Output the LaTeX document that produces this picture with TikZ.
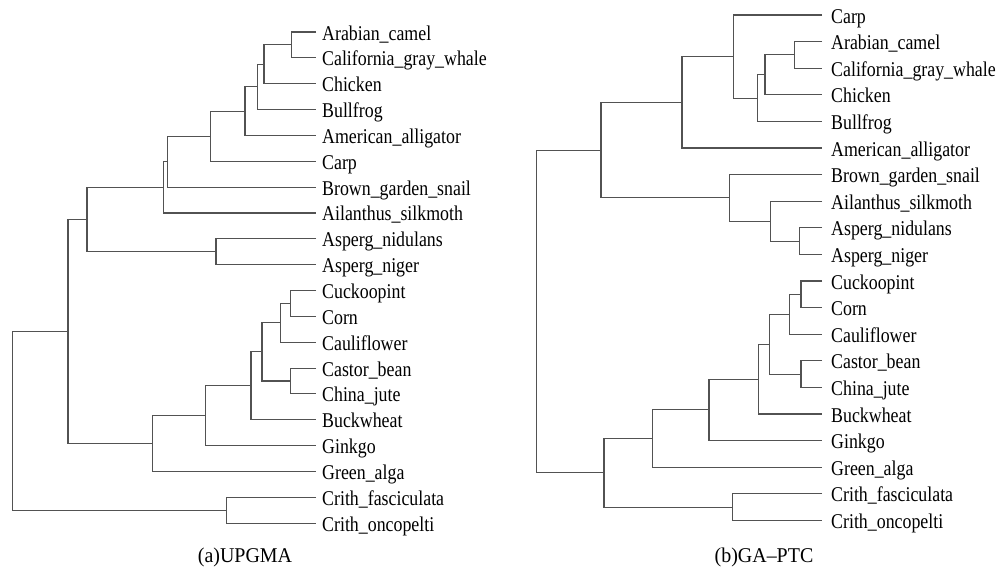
\documentclass[tikz,border=0pt]{standalone}
\usepackage{fontspec}
\setmainfont{Liberation Serif}[FakeStretch=0.85]
\newfontfamily\capfont{Liberation Serif}[FakeStretch=0.95]
\usetikzlibrary{calc}
\newcommand\junc[4]{%
  \coordinate (m#1) at ($(#3)!0.5!(#4)$);
  \coordinate (x#1) at (#2,0);
  \coordinate (#1) at (x#1 |- m#1);
  \draw[br] (#3) -| (#1) |- (#4);
}
\begin{document}
\begin{tikzpicture}[x=1pt,y=-1pt,
  br/.style={draw=black!68, line width=1.1pt},
  lbl/.style={anchor=base west, inner sep=0pt, font=\fontsize{21}{21}\selectfont},
  capt/.style={inner sep=0pt, font=\capfont\fontsize{21}{21}\selectfont}]
\useasboundingbox (0,0) rectangle (999,571);

% ---------- left tree (a) ----------
\foreach \t [count=\i from 0] in {Arabian\_camel, California\_gray\_whale, Chicken, Bullfrog, American\_alligator, Carp, Brown\_garden\_snail, Ailanthus\_silkmoth, Asperg\_nidulans, Asperg\_niger, Cuckoopint, Corn, Cauliflower, Castor\_bean, China\_jute, Buckwheat, Ginkgo, Green\_alga, Crith\_fasciculata, Crith\_oncopelti}{
  \coordinate (L\i) at (316,{32+25.85*\i});
  \node[lbl] (LT\i) at ([xshift=6pt,yshift=-8pt]L\i) {\t};
}
\junc{a1}{291.7}{L0}{L1}
\junc{a2}{264}{a1}{L2}
\junc{a3}{257.7}{a2}{L3}
\junc{a4}{245}{a3}{L4}
\junc{a5}{210.7}{a4}{L5}
\junc{a6}{167.3}{a5}{L6}
\junc{a7}{163.3}{a6}{L7}
\junc{a8}{216}{L8}{L9}
\junc{a9}{87}{a7}{a8}
\junc{p1}{290.7}{L10}{L11}
\junc{p2}{280.7}{p1}{L12}
\junc{p3}{290.7}{L13}{L14}
\junc{p4}{262}{p2}{p3}
\junc{p5}{251}{p4}{L15}
\junc{p6}{205.3}{p5}{L16}
\junc{p7}{152.7}{p6}{L17}
\junc{b1}{68}{a9}{p7}
\junc{c1}{226.7}{L18}{L19}
\junc{lroot}{12.7}{b1}{c1}
\node[capt] (capa) at (245,557) {(a)UPGMA};

% ---------- right tree (b) ----------
\foreach \t [count=\i from 0] in {Carp, Arabian\_camel, California\_gray\_whale, Chicken, Bullfrog, American\_alligator, Brown\_garden\_snail, Ailanthus\_silkmoth, Asperg\_nidulans, Asperg\_niger, Cuckoopint, Corn, Cauliflower, Castor\_bean, China\_jute, Buckwheat, Ginkgo, Green\_alga, Crith\_fasciculata, Crith\_oncopelti}{
  \coordinate (R\i) at (822,{15+26.6*\i});
  \node[lbl] (RT\i) at ([xshift=9pt,yshift=-8pt]R\i) {\t};
}
\junc{r1}{794.3}{R1}{R2}
\junc{r2}{765}{r1}{R3}
\junc{r3}{757.5}{r2}{R4}
\junc{r4}{733.3}{R0}{r3}
\junc{r5}{682}{r4}{R5}
\junc{r6}{799.5}{R8}{R9}
\junc{r7}{770.7}{R7}{r6}
\junc{r8}{729.5}{R6}{r7}
\junc{r9}{601}{r5}{r8}
\junc{q1}{801}{R10}{R11}
\junc{q2}{789.3}{q1}{R12}
\junc{q3}{801}{R13}{R14}
\junc{q4}{769.3}{q2}{q3}
\junc{q5}{758.7}{q4}{R15}
\junc{q6}{709}{q5}{R16}
\junc{q7}{652.3}{q6}{R17}
\junc{q8}{732.7}{R18}{R19}
\junc{q9}{604}{q7}{q8}
\junc{rroot}{536.5}{r9}{q9}
\node[capt] (capb) at (764,557) {(b)GA–PTC};
\end{tikzpicture}
\end{document}
